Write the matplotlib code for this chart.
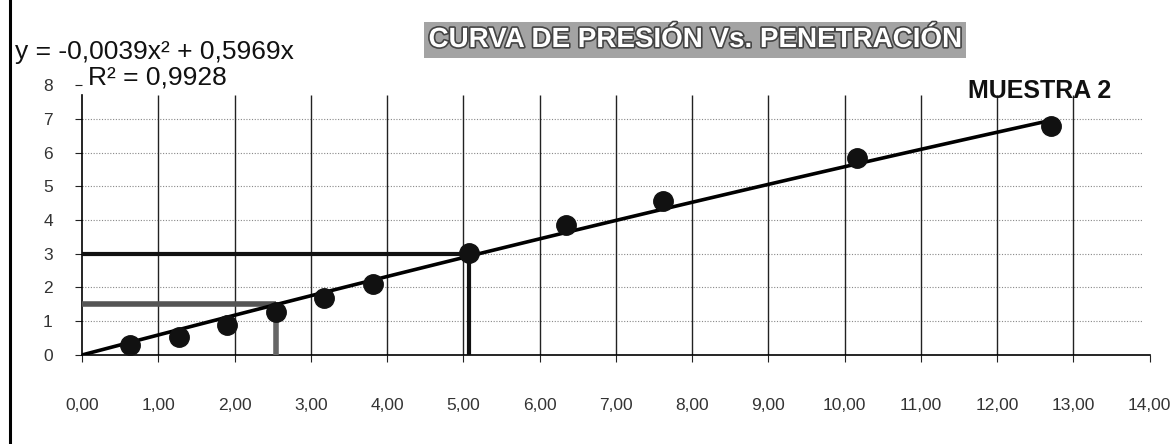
import numpy as np
import matplotlib
matplotlib.use("Agg")
import matplotlib.pyplot as plt
import matplotlib.patheffects as pe
from matplotlib.lines import Line2D

plt.rcParams['font.family'] = ['Liberation Sans', 'DejaVu Sans']

# penetracion (mm) vs presion
pen = [0.635, 1.27, 1.905, 2.54, 3.175, 3.81, 5.08, 6.35, 7.62, 10.16, 12.7]
pres = [0.30, 0.54, 0.90, 1.27, 1.68, 2.10, 3.02, 3.85, 4.55, 5.83, 6.80]

# trend line coefficients (y = a x^2 + b x)
coef_a = -0.0039
coef_b = 0.5969

# reference reading lines
ref_x = [2.54, 5.08]
ref_y = [1.5, 3.0]

xticks = list(range(0, 15))
xticklabels = [f"{v},00" for v in xticks]
yticks = list(range(0, 9))

fig = plt.figure(figsize=(11.72, 4.44), dpi=100)
ax = fig.add_axes([0.070, 0.2005, 0.911, 0.608])

ax.set_xlim(0, 14)
ax.set_ylim(0, 8)

# grid
ax.hlines(range(1, 8), 0, 13.9, colors='#888888', linestyles=(0, (1, 1.5)), linewidth=0.8, zorder=1)
ax.vlines(range(1, 14), 0, 7.7, colors='#222222', linewidth=1.0, zorder=1)

# reference lines
ax.plot([0, ref_x[0]], [ref_y[0], ref_y[0]], color='#555555', lw=4, solid_capstyle='butt', zorder=3)
ax.plot([ref_x[0], ref_x[0]], [0, ref_y[0]], color='#666666', lw=4, solid_capstyle='butt', zorder=3)
ax.plot([0, ref_x[1]], [ref_y[1], ref_y[1]], color='#111111', lw=3, solid_capstyle='butt', zorder=3)
ax.plot([ref_x[1], ref_x[1]], [0, ref_y[1]], color='#111111', lw=3, solid_capstyle='butt', zorder=3)

# trend line
xt = np.linspace(0, pen[-1], 100)
ax.plot(xt, coef_a * xt**2 + coef_b * xt, color='black', lw=2.6, zorder=4)

# data
ax.plot(pen, pres, 'o', color='#111111', markersize=14, zorder=5)

for s in ['top', 'right']:
    ax.spines[s].set_visible(False)
ax.spines['left'].set_linewidth(1.2)
ax.spines['bottom'].set_linewidth(1.2)
ax.spines['left'].set_bounds(0, 7.7)

ax.set_xticks(xticks)
ax.set_xticklabels(xticklabels)
ax.set_yticks(yticks)
ax.tick_params(axis='x', direction='out', length=5, pad=26, labelsize=12.5, colors='#222222')
ax.tick_params(axis='y', direction='out', length=5, pad=16, labelsize=12.5, colors='#222222')
for lab in ax.get_xticklabels() + ax.get_yticklabels():
    lab.set_color('#333333')

# trend equation
fig.text(15 / 1172, 1 - 52 / 444, "y = -0,0039x² + 0,5969x", fontsize=19,
         ha='left', va='center', color='#111111')
fig.text(88 / 1172, 1 - 77 / 444, "R² = 0,9928", fontsize=19,
         ha='left', va='center', color='#111111')

# title box
fig.text(695 / 1172, 1 - 40 / 444, "CURVA DE PRESIÓN Vs. PENETRACIÓN", fontsize=20,
         fontweight='bold', ha='center', va='center', color='white',
         path_effects=[pe.withStroke(linewidth=2.4, foreground='#444444')],
         bbox=dict(boxstyle='square,pad=0.18', facecolor='#a3a3a3', edgecolor='none'))

fig.text(968 / 1172, 1 - 91 / 444, "MUESTRA 2", fontsize=18, fontweight='bold',
         ha='left', va='center', color='#111111')

# left border of the chart area
fig.add_artist(Line2D([10 / 1172, 10 / 1172], [0, 1], color='black', lw=2.2,
                      transform=fig.transFigure))

fig.savefig("out.png", dpi=100)
